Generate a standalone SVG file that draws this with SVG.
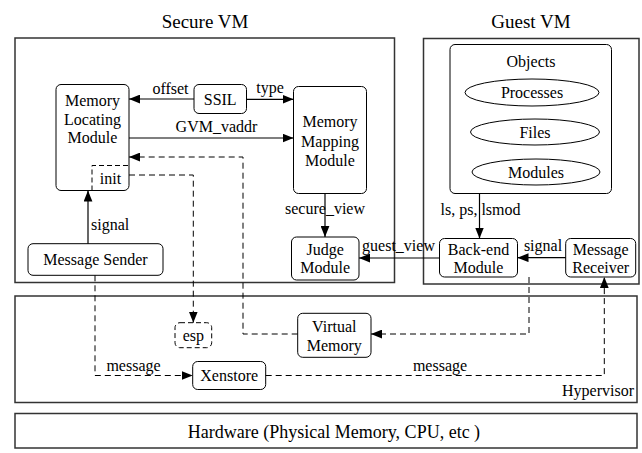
<svg xmlns="http://www.w3.org/2000/svg" width="642" height="453" viewBox="0 0 642 453">
<style>
text{font-family:"Liberation Serif","Times New Roman",serif;font-size:16px;fill:#000}
.t{font-size:19px}
.c{text-anchor:middle}
.frame{fill:none;stroke:#333;stroke-width:1.5}
.node{fill:#fff;stroke:#000;stroke-width:1}
.dn{fill:#fff;stroke:#000;stroke-width:1;stroke-dasharray:5,3}
.ln{fill:none;stroke:#000;stroke-width:1.2}
.ds{fill:none;stroke:#000;stroke-width:1;stroke-dasharray:6,4}
</style>
<defs>
<marker id="ah" viewBox="0 0 10 8" refX="10" refY="4" markerWidth="11" markerHeight="9" markerUnits="userSpaceOnUse" orient="auto">
<path d="M0,0 L10,4 L0,8 Z" fill="#000"/>
</marker>
</defs>
<g id="frames">
<rect class="frame" x="15" y="38" width="379.5" height="244.5"/>
<text class="t c" x="205" y="27.5">Secure VM</text>
<rect class="frame" x="423.5" y="38.5" width="215.5" height="245.5"/>
<text class="t c" x="531" y="27.5">Guest VM</text>
<rect class="frame" x="15" y="296" width="622" height="106.5"/>
<text x="634" y="396" text-anchor="end">Hypervisor</text>
<rect class="frame" x="15" y="413.5" width="622" height="34.5"/>
<text class="c" x="334" y="437.5" style="font-size:18px">Hardware (Physical Memory, CPU, etc )</text>
</g>
<g id="mlm">
<rect class="node" x="56" y="84.5" width="73" height="106" rx="5"/>
<text class="c" x="92.5" y="105.5">Memory</text>
<text class="c" x="92.5" y="124.5">Locating</text>
<text class="c" x="92.5" y="143">Module</text>
</g>
<g id="init">
<path class="ds" d="M92,190.5 V165.5 H129" style="stroke-dasharray:5,3"/>
<text class="c" x="110.5" y="184">init</text>
</g>
<g id="ssil">
<rect class="node" x="194" y="84.5" width="52.5" height="29" rx="5"/>
<text class="c" x="220.2" y="104.5">SSIL</text>
</g>
<g id="mmm">
<rect class="node" x="293.5" y="86.5" width="73" height="107" rx="5"/>
<text class="c" x="330" y="127">Memory</text>
<text class="c" x="330" y="146.5">Mapping</text>
<text class="c" x="330" y="165.5">Module</text>
</g>
<g id="judge">
<rect class="node" x="291.5" y="237" width="67.5" height="43" rx="5"/>
<text class="c" x="325.2" y="254.5">Judge</text>
<text class="c" x="325.2" y="273">Module</text>
</g>
<g id="sender">
<rect class="node" x="28" y="243.7" width="135" height="31.6" rx="5"/>
<text class="c" x="95.5" y="265">Message Sender</text>
</g>
<g id="objects">
<rect class="node" x="450" y="44.5" width="161.5" height="149" rx="5"/>
<text class="c" x="531" y="66.5">Objects</text>
<ellipse class="node" cx="532" cy="92.5" rx="67" ry="13.5"/>
<text class="c" x="532" y="98">Processes</text>
<ellipse class="node" cx="535" cy="132" rx="64.5" ry="13"/>
<text class="c" x="535" y="137.5">Files</text>
<ellipse class="node" cx="536" cy="172" rx="64" ry="13"/>
<text class="c" x="536" y="177.5">Modules</text>
</g>
<g id="backend">
<rect class="node" x="439.5" y="238.5" width="78" height="38.5" rx="5"/>
<text class="c" x="478.5" y="255">Back-end</text>
<text class="c" x="478.5" y="273">Module</text>
</g>
<g id="receiver">
<rect class="node" x="565.7" y="238.5" width="70" height="38.5" rx="5"/>
<text class="c" x="600.7" y="255">Message</text>
<text class="c" x="600.7" y="273">Receiver</text>
</g>
<g id="esp">
<rect class="dn" x="175" y="322.7" width="36.7" height="25" rx="5"/>
<text class="c" x="193.3" y="340.5">esp</text>
</g>
<g id="xenstore">
<rect class="node" x="192.7" y="361.5" width="73" height="28" rx="5"/>
<text class="c" x="229.2" y="381">Xenstore</text>
</g>
<g id="vmem">
<rect class="node" x="297.7" y="313.3" width="73.3" height="44" rx="5"/>
<text class="c" x="334.3" y="332">Virtual</text>
<text class="c" x="334.3" y="350.5">Memory</text>
</g>
<g id="connectors">
<path class="ln" d="M194,99 H129" marker-end="url(#ah)"/>
<text class="c" x="170.5" y="94">offset</text>
<path class="ln" d="M246.5,99.3 H293.5" marker-end="url(#ah)"/>
<text class="c" x="270" y="93">type</text>
<path class="ln" d="M129,138 H293.5" marker-end="url(#ah)"/>
<text class="c" x="216.5" y="131.5">GVM_vaddr</text>
<path class="ln" d="M325,193.5 V237" marker-end="url(#ah)"/>
<text class="c" x="325" y="214">secure_view</text>
<path class="ln" d="M439.5,258 H359" marker-end="url(#ah)"/>
<text class="c" x="398.5" y="251">guest_view</text>
<path class="ln" d="M479.5,193.5 V238.5" marker-end="url(#ah)"/>
<text class="c" x="480.5" y="214.5">ls, ps, lsmod</text>
<path class="ln" d="M565.7,257.7 H517.5" marker-end="url(#ah)"/>
<text class="c" x="543" y="251">signal</text>
<path class="ln" d="M88,243.7 V190.5" marker-end="url(#ah)"/>
<text x="91" y="229.5">signal</text>
<path class="ds" d="M129,175 H193.3 V322.7" marker-end="url(#ah)"/>
<path class="ds" d="M297.7,334 H243 V157 H129" marker-end="url(#ah)"/>
<path class="ds" d="M529,277 V334 H371" marker-end="url(#ah)"/>
<path class="ds" d="M95,275.3 V375.5 H192.7" marker-end="url(#ah)"/>
<text class="c" x="133.5" y="371">message</text>
<path class="ds" d="M265.7,375.5 H604.3 V277" marker-end="url(#ah)"/>
<text class="c" x="440" y="371">message</text>
</g>
</svg>
